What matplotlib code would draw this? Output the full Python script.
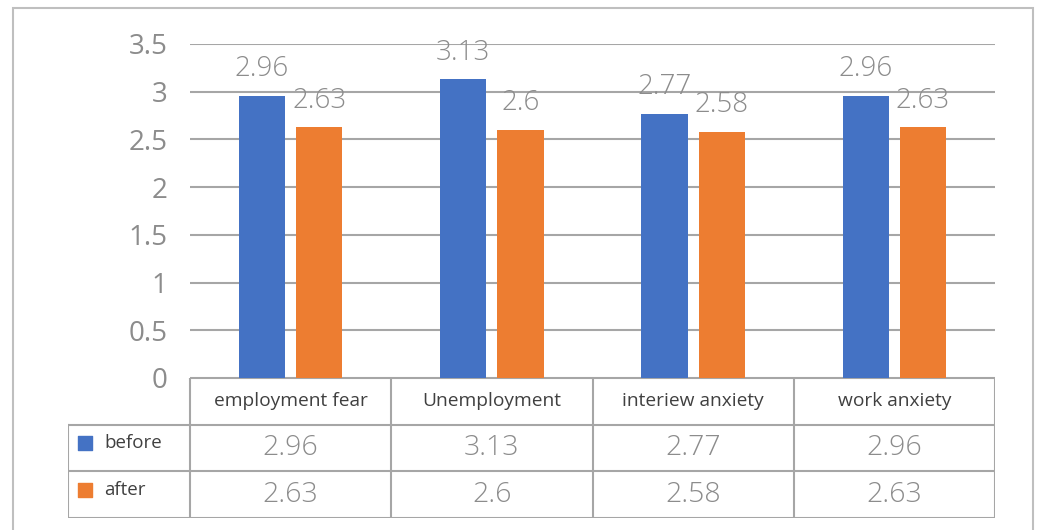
import matplotlib.pyplot as plt
from matplotlib.patches import Rectangle

# 数据
categories = ['employment fear', 'Unemployment', 'interiew anxiety', 'work anxiety']
series_names = ['before', 'after']
before = [2.96, 3.13, 2.77, 2.96]
after = [2.63, 2.6, 2.58, 2.63]
y_ticks = [0, 0.5, 1, 1.5, 2, 2.5, 3, 3.5]

BLUE = '#4472C4'
ORANGE = '#ED7D31'
GRID = '#a6a6a6'
NUM_GRAY = '#8c8c8c'
DARK = '#404040'

plt.rcParams['font.family'] = ['Open Sans', 'DejaVu Sans']

W, H = 1038, 530
fig = plt.figure(figsize=(W / 100, H / 100), dpi=100)

def px(x0, y0, x1, y1):
    """像素坐标 -> figure 坐标 [left, bottom, width, height]"""
    return [x0 / W, 1 - y1 / H, (x1 - x0) / W, (y1 - y0) / H]

# 外框
fig.patches.append(Rectangle((13 / W, -0.05), (1033 - 13) / W, 1 - 8 / H + 0.05,
                             transform=fig.transFigure, fill=False,
                             edgecolor='#bfbfbf', linewidth=1.5))

# 柱状图
left, right, top, base = 190, 995, 44, 378
ax = fig.add_axes(px(left, top, right, base))
n = len(categories)
xs = list(range(n))
bw = 0.23
gap = 0.055
b1 = ax.bar([x - bw / 2 - gap / 2 for x in xs], before, bw, color=BLUE, zorder=3)
b2 = ax.bar([x + bw / 2 + gap / 2 for x in xs], after, bw, color=ORANGE, zorder=3)
for bars, vals in ((b1, before), (b2, after)):
    for rect, v in zip(bars, vals):
        ax.annotate(f'{v:g}', (rect.get_x() + rect.get_width() / 2, v),
                    xytext=(0, 14), textcoords='offset points',
                    ha='center', va='baseline', fontsize=20,
                    color=NUM_GRAY, fontweight='light', zorder=4)

ax.set_xlim(-0.5, n - 0.5)
ax.set_ylim(0, 3.5)
ax.set_yticks(y_ticks)
ax.set_yticklabels([f'{t:g}' for t in y_ticks], fontsize=20, color=NUM_GRAY)
ax.tick_params(axis='y', length=0, pad=16)
ax.set_xticks([])
ax.yaxis.grid(True, color=GRID, linewidth=1.5, zorder=0)
for s in ax.spines.values():
    s.set_visible(False)
ax.patch.set_alpha(0)

# 数据表
t_left, t_bottom = 68, 518
col_w = (right - left) / n
label_w = (left - t_left) / col_w
tax = fig.add_axes(px(t_left, base, right, t_bottom))
tax.set_xlim(-0.5 - label_w, n - 0.5)
tax.set_ylim(3, 0)
tax.axis('off')

lc = dict(color=GRID, linewidth=1.5, solid_capstyle='projecting')
# 横线
tax.plot([-0.5, n - 0.5], [0, 0], **lc)
for r in (1, 2, 3):
    tax.plot([-0.5 - label_w, n - 0.5], [r, r], **lc)
# 竖线
for c in range(n + 1):
    tax.plot([c - 0.5, c - 0.5], [0, 3], **lc)
tax.plot([-0.5 - label_w, -0.5 - label_w], [1, 3], **lc)

for i, cat in enumerate(categories):
    tax.text(i, 0.5, cat, ha='center', va='center', fontsize=13.8, color=DARK)
for r, (name, vals, colr) in enumerate(zip(series_names, (before, after), (BLUE, ORANGE)), start=1):
    tax.scatter([-0.5 - label_w + 0.085], [r + 0.4], marker='s', s=110, color=colr)
    tax.text(-0.5 - label_w + 0.18, r + 0.4, name, ha='left', va='center',
             fontsize=13.5, color=DARK)
    for i, v in enumerate(vals):
        tax.text(i, r + 0.5, f'{v:g}', ha='center', va='center', fontsize=20.5,
                 color=NUM_GRAY, fontweight='light')

fig.savefig('out.png', dpi=100)
